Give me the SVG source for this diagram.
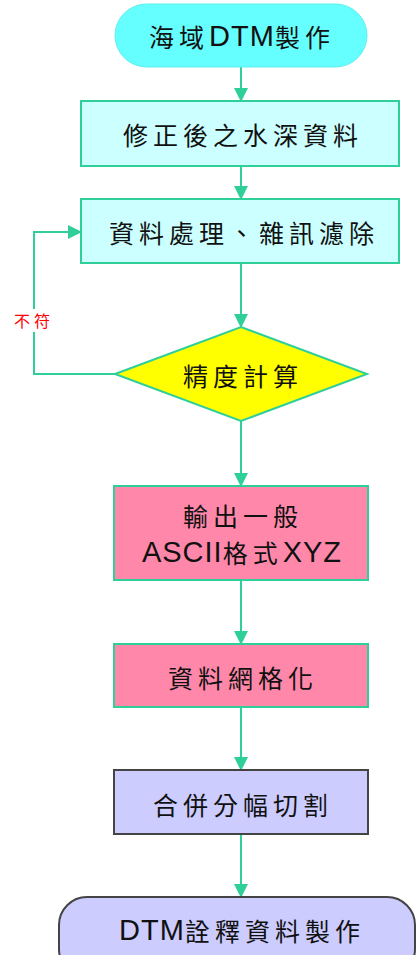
<svg xmlns="http://www.w3.org/2000/svg" width="417" height="955" viewBox="0 0 417 955">
<defs>
<style>
.t{font-family:"Noto Sans CJK TC","Liberation Sans",sans-serif;font-size:25px;fill:#111;text-anchor:middle;dominant-baseline:central;letter-spacing:5px}
.lat{font-family:"Liberation Sans",Arial,sans-serif;font-size:29px;letter-spacing:1px}
.c{stroke:#2FCF9A;stroke-width:2;fill:none}
.sc{stroke:#2FCF9A;stroke-width:2}
.sd{stroke:#444;stroke-width:2}
</style>
<marker id="ah" markerWidth="14" markerHeight="14" refX="13" refY="7" orient="auto" markerUnits="userSpaceOnUse">
<path d="M0,0 L14,7 L0,14 Z" fill="#2FCF9A"/>
</marker>
</defs>
<rect width="417" height="955" fill="#fff"/>
<g id="connectors">
<line class="c" x1="241" y1="67" x2="241" y2="101" marker-end="url(#ah)"/>
<line class="c" x1="241" y1="166" x2="241" y2="199" marker-end="url(#ah)"/>
<line class="c" x1="241" y1="263" x2="241" y2="327" marker-end="url(#ah)"/>
<line class="c" x1="241" y1="421" x2="241" y2="486" marker-end="url(#ah)"/>
<line class="c" x1="241" y1="580" x2="241" y2="644" marker-end="url(#ah)"/>
<line class="c" x1="241" y1="707" x2="241" y2="770" marker-end="url(#ah)"/>
<line class="c" x1="241" y1="834" x2="241" y2="897" marker-end="url(#ah)"/>
<polyline class="c" points="115,374 34,374 34,232 81,232" marker-end="url(#ah)"/>
<rect x="8" y="309" width="50" height="23" fill="#fff"/>
<text x="34" y="320" font-family="'Noto Sans CJK TC',sans-serif" font-size="16" fill="#FF0000" text-anchor="middle" dominant-baseline="central" letter-spacing="4">不符</text>
</g>
<g id="start">
<rect x="115" y="4" width="252" height="63" rx="31.5" fill="#66FFFF" stroke="#5EEFEF" stroke-width="1"/>
<text class="t" x="242" y="36">海域<tspan class="lat">DTM</tspan>製作</text>
</g>
<g id="n1">
<rect x="81" y="101" width="318" height="65" fill="#CCFFFF" class="sc"/>
<text class="t" x="243" y="134">修正後之水深資料</text>
</g>
<g id="n2">
<rect x="81" y="199" width="318" height="64" fill="#CCFFFF" class="sc"/>
<text class="t" x="244" y="232">資料處理、雜訊濾除</text>
</g>
<g id="n3">
<polygon points="115,374 241,327 367,374 241,421" fill="#FFFF00" class="sc"/>
<text class="t" x="243" y="375">精度計算</text>
</g>
<g id="n4">
<rect x="114" y="486" width="254" height="94" fill="#FF88AA" class="sc"/>
<text class="t" x="243" y="515">輸出一般</text>
<text class="t" x="242" y="552"><tspan class="lat">ASCII</tspan>格式<tspan class="lat">XYZ</tspan></text>
</g>
<g id="n5">
<rect x="114" y="644" width="254" height="63" fill="#FF88AA" class="sc"/>
<text class="t" x="243" y="677">資料網格化</text>
</g>
<g id="n6">
<rect x="114" y="770" width="254" height="64" fill="#CCCCFF" class="sd"/>
<text class="t" x="243" y="804">合併分幅切割</text>
</g>
<g id="end">
<rect x="59" y="897" width="356" height="80" rx="28" fill="#CCCCFF" class="sd"/>
<text class="t" x="242" y="930"><tspan class="lat">DTM</tspan>詮釋資料製作</text>
</g>
</svg>
